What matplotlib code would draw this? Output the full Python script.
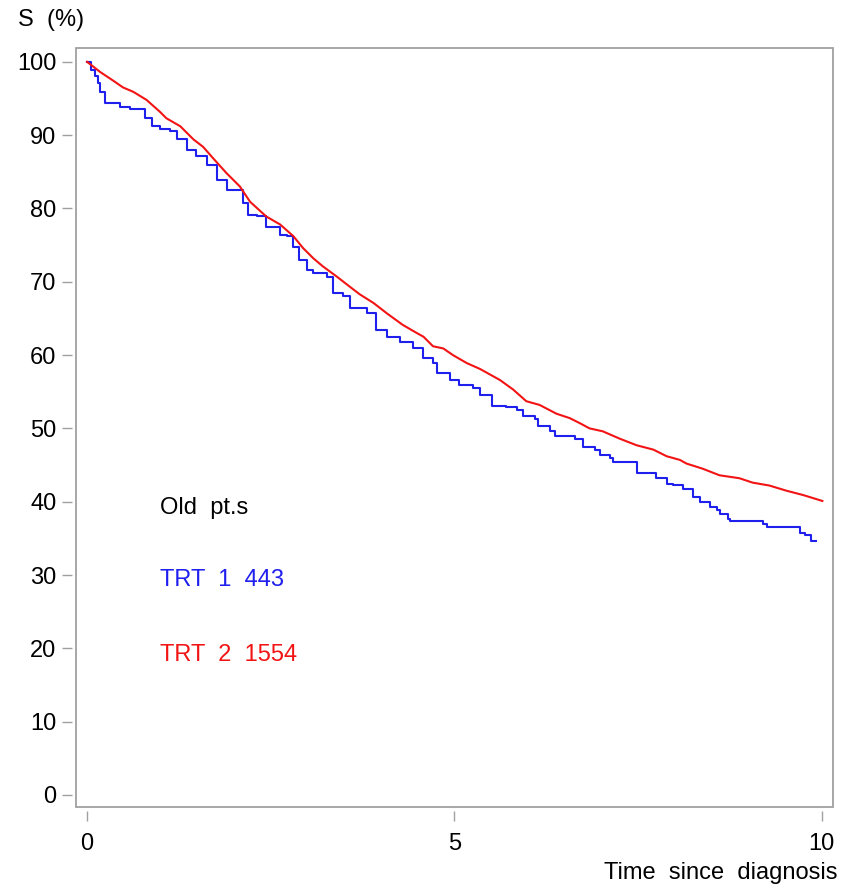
import matplotlib

matplotlib.use("Agg")
import matplotlib.pyplot as plt
from matplotlib.patches import Rectangle

# TRT 1 (n=443)
trt1_time = [0.00, 0.06, 0.11, 0.15, 0.18, 0.24, 0.45, 0.59, 0.79, 0.88, 0.99, 1.13, 1.22, 1.36,
             1.49, 1.63, 1.77, 1.90, 2.13, 2.19, 2.31, 2.44, 2.63, 2.72, 2.81, 2.88, 2.99, 3.08,
             3.26, 3.35, 3.49, 3.58, 3.81, 3.94, 4.08, 4.26, 4.44, 4.58, 4.71, 4.76, 4.94, 5.07,
             5.26, 5.35, 5.51, 5.71, 5.85, 5.94, 6.10, 6.14, 6.30, 6.37, 6.64, 6.75, 6.91, 6.98,
             7.12, 7.16, 7.48, 7.62, 7.75, 7.89, 7.98, 8.11, 8.25, 8.34, 8.48, 8.57, 8.61, 8.72,
             8.75, 9.20, 9.25, 9.38, 9.70, 9.77, 9.86, 9.93]
trt1_surv = [100.0, 98.9, 98.0, 97.1, 95.9, 94.4, 93.9, 93.5, 92.3, 91.2, 90.8, 90.5, 89.4, 88.0,
             87.1, 85.9, 83.9, 82.5, 80.7, 79.1, 78.9, 77.5, 76.4, 76.2, 74.8, 73.0, 71.6, 71.2,
             70.7, 68.4, 68.0, 66.4, 65.8, 63.4, 62.5, 61.8, 60.9, 59.6, 58.9, 57.5, 56.6, 55.9,
             55.5, 54.6, 53.0, 52.9, 52.5, 51.7, 51.3, 50.3, 49.6, 48.9, 48.6, 47.5, 47.1, 46.4,
             45.9, 45.4, 43.9, 43.9, 43.2, 42.4, 42.3, 41.7, 40.7, 39.9, 39.3, 38.9, 38.3, 37.7,
             37.4, 37.0, 36.5, 36.5, 35.7, 35.5, 34.7, 34.7]

# TRT 2 (n=1554)
trt2_time = [0.00, 0.18, 0.36, 0.49, 0.63, 0.81, 0.99, 1.08, 1.27, 1.45, 1.58, 1.72, 1.90, 2.08,
             2.22, 2.44, 2.63, 2.81, 2.94, 3.08, 3.21, 3.40, 3.58, 3.71, 3.90, 4.08, 4.30, 4.49,
             4.58, 4.71, 4.85, 4.98, 5.17, 5.35, 5.62, 5.80, 5.98, 6.16, 6.39, 6.57, 6.71, 6.84,
             7.02, 7.25, 7.48, 7.71, 7.89, 8.07, 8.16, 8.38, 8.61, 8.88, 9.06, 9.29, 9.52, 9.75,
             10.01]
trt2_surv = [100.0, 98.6, 97.4, 96.5, 95.9, 94.8, 93.2, 92.3, 91.2, 89.4, 88.4, 86.8, 84.8, 83.0,
             80.9, 78.9, 77.8, 76.2, 74.6, 73.2, 72.1, 70.7, 69.3, 68.3, 67.1, 65.7, 64.1, 63.0,
             62.5, 61.2, 60.9, 60.0, 58.9, 58.1, 56.6, 55.3, 53.7, 53.2, 52.0, 51.4, 50.7, 50.0,
             49.6, 48.6, 47.7, 47.1, 46.2, 45.7, 45.2, 44.5, 43.6, 43.2, 42.6, 42.2, 41.5, 40.9,
             40.1]

x_ticks = [0, 5, 10]
y_ticks = [0, 10, 20, 30, 40, 50, 60, 70, 80, 90, 100]

BLUE = "#1f1fee"
RED = "#f21414"
GREY = "#a0a0a0"
FS = 17

plt.rcParams["font.family"] = ["Liberation Sans", "DejaVu Sans"]

fig = plt.figure(figsize=(8.54, 8.91), dpi=100)
ax = fig.add_axes([0.089, 0.0943, 0.886, 0.852])

ax.step(trt1_time, trt1_surv, where="post", color=BLUE, lw=1.5)
ax.plot(trt2_time, trt2_surv, color=RED, lw=1.5)

ax.set_xlim(-0.15, 10.15)
ax.set_ylim(-1.64, 101.9)
ax.set_xticks(x_ticks)
ax.set_yticks(y_ticks)

# ticks sit a little away from the frame
for side in ("left", "bottom"):
    ax.spines[side].set_position(("outward", 3))
for side in ax.spines:
    ax.spines[side].set_visible(False)
ax.add_patch(Rectangle((0, 0), 1, 1, transform=ax.transAxes, fill=False,
                       ec=GREY, lw=1.3, clip_on=False, zorder=5))

ax.tick_params(axis="y", length=7, width=1.0, color=GREY, pad=4, labelsize=FS)
ax.tick_params(axis="x", length=7, width=1.0, color=GREY, pad=9, labelsize=FS)

ax.text(0.99, 39.2, "Old  pt.s", fontsize=FS, color="black", va="center")
ax.text(0.99, 29.3, "TRT  1  443", fontsize=FS, color=BLUE, va="center")
ax.text(0.99, 19.1, "TRT  2  1554", fontsize=FS, color=RED, va="center")

fig.text(18 / 854, 1 - 20 / 891, "S  (%)", fontsize=FS, ha="left", va="center")
fig.text(838 / 854, 1 - 873 / 891, "Time  since  diagnosis", fontsize=FS, ha="right", va="center")

fig.savefig("out.png", dpi=100)
